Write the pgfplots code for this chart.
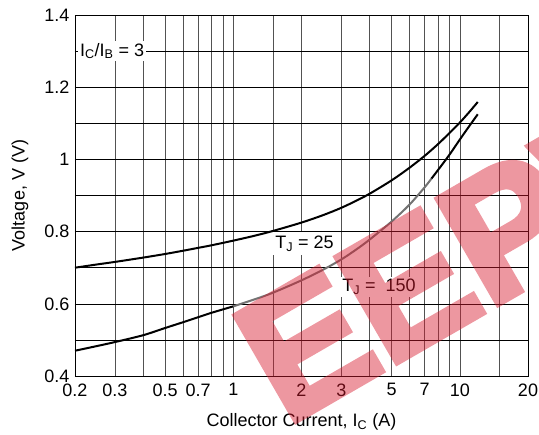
\documentclass[border=0pt]{standalone}
\usepackage{fontspec}
\setmainfont{Liberation Sans}
\newfontfamily\wmfont{Liberation Sans}[BoldFeatures={FakeBold=4}]
\usepackage{pgfplots}
\pgfplotsset{compat=1.18}
\definecolor{wm}{RGB}{215,25,45}
\begin{document}
\begin{tikzpicture}
\begin{axis}[
  width=453pt, height=361pt, scale only axis,
  xmode=log, xmin=0.2, xmax=20, ymin=0.4, ymax=1.4,
  xtick={0.2,0.3,0.5,0.7,1,2,3,5,7,10,20},
  xticklabels={0.2,0.3,0.5,0.7,1,2,3,5,7,10,20},
  minor xtick={0.4,0.6,0.8,0.9,1.5,4,6,8,9,15},
  ytick={0.4,0.6,0.8,1,1.2,1.4},
  yticklabels={0.4,0.6,0.8,1,1.2,1.4},
  minor ytick={0.5,0.7,0.9,1.1,1.3},
  grid=both,
  major grid style={black!68, line width=0.6pt},
  minor grid style={black!68, line width=0.6pt},
  extra y ticks={0.5,0.6,0.7,0.8,0.9,1.0,1.1,1.2,1.3},
  extra y tick labels={},
  extra y tick style={grid=major, major grid style={black, line width=0.6pt}},
  major tick length=0pt, minor tick length=0pt,
  axis line style={black, line width=0.9pt},
  /pgf/number format/assume math mode=true,
  tick label style={font=\fontsize{18}{21}\selectfont},
  xticklabel style={yshift=-4pt},
  yticklabel style={xshift=-2pt},
  every axis x label/.style={at={(axis description cs:0.5,0)}, yshift=-46pt, anchor=center},
  every axis y label/.style={at={(axis description cs:-0.1214,0.5)}, rotate=90, anchor=center},
  label style={font=\fontsize{18}{21}\selectfont},
  xlabel={Collector Current, I\textsubscript{C} (A)},
  ylabel={Voltage, V (V)},
]
\addplot[black, line width=2pt, smooth] coordinates {
 (0.2,0.700) (0.25,0.709) (0.3,0.716) (0.4,0.728) (0.5,0.738) (0.6,0.747)
 (0.7,0.755) (0.8,0.762) (1,0.775) (1.25,0.789) (1.5,0.802) (2,0.825)
 (2.5,0.846) (3,0.866) (3.5,0.886) (4,0.905) (5,0.942) (6,0.977)
 (7,1.010) (8,1.042) (9,1.073) (10,1.102) (11,1.131) (12,1.159)};
\addplot[black, line width=2pt, smooth] coordinates {
 (0.2,0.470) (0.25,0.483) (0.3,0.494) (0.4,0.513) (0.5,0.533) (0.6,0.549)
 (0.7,0.563) (0.8,0.575) (1,0.593)};
\addplot[black!55, line width=2pt, smooth] coordinates {
 (1,0.593) (1.25,0.613) (1.5,0.631) (2,0.665) (2.5,0.695) (3,0.723)
 (3.5,0.751) (4,0.778) (5,0.828) (6,0.875) (7,0.923) (7.5,0.947)};
\addplot[black, line width=2pt, smooth] coordinates {
 (7.5,0.947) (8,0.970) (9,1.013) (10,1.055) (11,1.092) (12,1.125)};
\node[fill=white, inner sep=2pt, anchor=west, font=\fontsize{18}{21}\selectfont] at (axis cs:0.206,1.3) {I\textsubscript{C}/I\textsubscript{B} = 3};
\node[fill=white, inner xsep=2pt, inner ysep=4pt, anchor=north west, font=\fontsize{18}{21}\selectfont] at (axis cs:1.5,0.8) {T\textsubscript{J} = 25};
\node[fill=white, inner sep=2pt, anchor=center, font=\fontsize{18}{21}\selectfont] at (axis cs:4.4,0.647) {T\textsubscript{J} = \ 150};
\end{axis}
\begin{scope}[transparency group, opacity=0.45]
\node[anchor=base west, rotate=30, inner sep=0pt, text=wm, font=\fontsize{175}{175}\selectfont\wmfont\bfseries] at ([xshift=211pt,yshift=-50pt]current axis.south west) {EEPW};
\end{scope}
\pgfresetboundingbox
\path ([xshift=-75pt,yshift=-58pt]current axis.south west) rectangle ([xshift=11pt,yshift=15pt]current axis.north east);
\end{tikzpicture}
\end{document}
